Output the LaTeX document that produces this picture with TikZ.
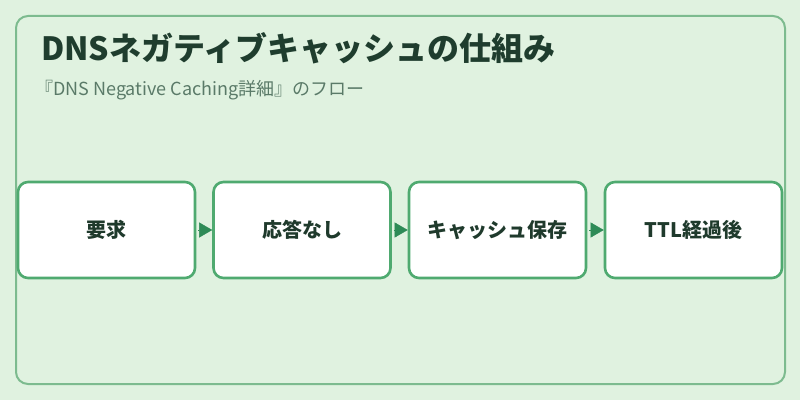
\documentclass[tikz,border=0pt]{standalone}
\usepackage{fontspec}
\setmainfont{Noto Sans CJK JP}
\usetikzlibrary{arrows.meta}
\definecolor{bgc}{HTML}{E0F2E0}
\definecolor{framec}{HTML}{7DBB8F}
\definecolor{boxc}{HTML}{4FAA70}
\definecolor{arrc}{HTML}{2E8B57}
\definecolor{titlec}{HTML}{1F3D2E}
\definecolor{subc}{HTML}{5A7A68}
\definecolor{textc}{HTML}{1F3A2C}
\tikzset{
  stepbox/.style={draw=boxc, line width=2.6pt, fill=white, rounded corners=10pt,
    minimum width=177pt, minimum height=96pt, inner sep=0pt,
    font=\fontsize{20}{24}\selectfont\bfseries, text=textc},
  flow/.style={draw=arrc, line width=0.4pt, -{Triangle[length=13pt,width=15pt]}, arrc, shorten <=2pt}
}
\begin{document}
\begin{tikzpicture}[x=1pt,y=1pt]
\useasboundingbox (0,0) rectangle (800,400);
\fill[bgc] (0,0) rectangle (800,400);
\draw[framec, line width=2pt, rounded corners=12pt] (16,16) rectangle (785,384);
\node[anchor=base west, inner sep=0pt, text=titlec, font=\fontsize{32}{36}\selectfont\bfseries] (title) at (41,340) {DNSネガティブキャッシュの仕組み};
\node[anchor=base west, inner sep=0pt, text=subc, font=\fontsize{18}{21}\selectfont] (sub) at (35,305) {『DNS Negative Caching詳細』のフロー};
\node[stepbox] (b1) at (106.5,170) {要求};
\node[stepbox] (b2) at (302,170) {応答なし};
\node[stepbox] (b3) at (497.5,170) {キャッシュ保存};
\node[stepbox] (b4) at (693.5,170) {TTL経過後};
\draw[flow] (b1.east) -- (b2.west);
\draw[flow] (b2.east) -- (b3.west);
\draw[flow] (b3.east) -- (b4.west);
\end{tikzpicture}
\end{document}
